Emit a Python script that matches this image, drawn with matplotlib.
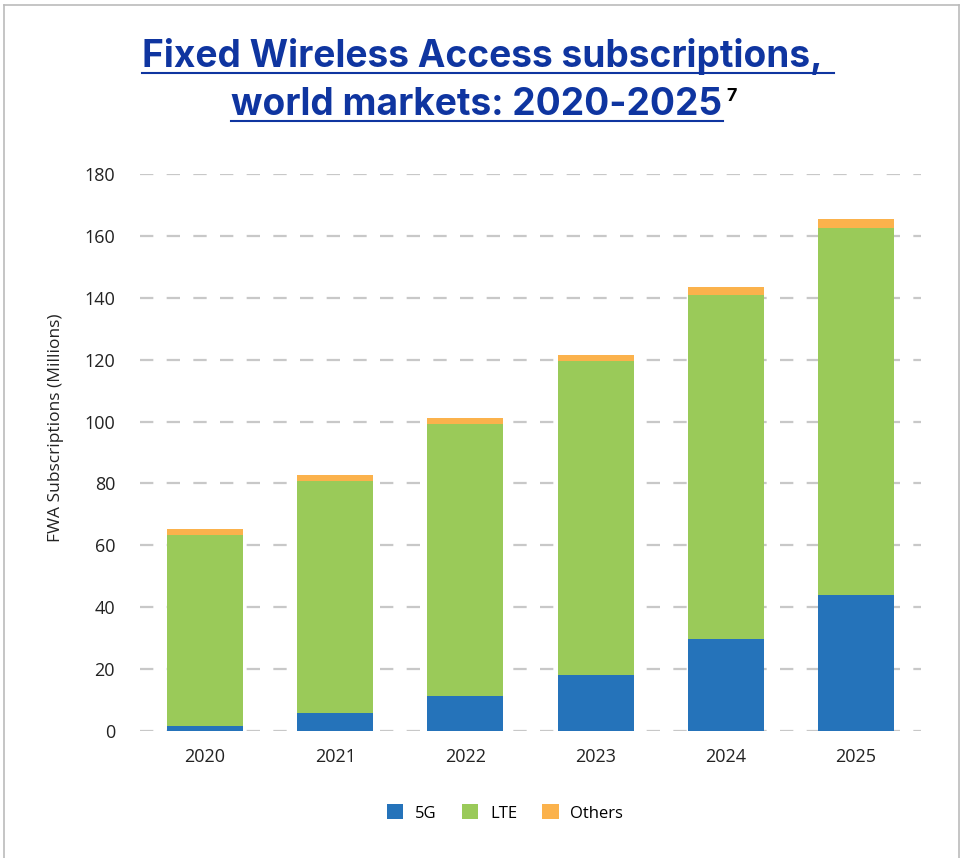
# fwa_subscriptions.py
# stacked bars of FWA subscriptions by technology

import matplotlib
matplotlib.use("Agg")
import matplotlib.pyplot as plt
import numpy as np
from matplotlib.lines import Line2D

years = ["2020", "2021", "2022", "2023", "2024", "2025"]
sub_5g = [1.5, 5.7, 11.2, 18.2, 29.6, 43.9]
sub_lte = [61.8, 75.2, 87.9, 101.5, 111.2, 118.8]
sub_other = [2.0, 1.9, 1.9, 1.9, 2.7, 2.6]
series = ["5G", "LTE", "Others"]
colors = ["#2573BA", "#9ACA59", "#FBB24C"]

plt.rcParams["font.family"] = ["Open Sans", "DejaVu Sans"]

W, H = 963, 858
fig = plt.figure(figsize=(W / 100, H / 100), dpi=100)
ax = fig.add_axes([140 / W, 1 - 731 / H, (921 - 140) / W, (731 - 174) / H])

x = np.arange(len(years))
bottom = np.zeros(len(years))
for name, vals, c in zip(series, [sub_5g, sub_lte, sub_other], colors):
    ax.bar(x, vals, 0.585, bottom=bottom, color=c, label=name, zorder=2)
    bottom += np.array(vals)

ax.set_xlim(-0.5, len(years) - 0.5)
ax.set_ylim(0, 180)
ax.set_yticks(range(0, 181, 20))
ax.set_xticks(x, years)
ax.grid(axis="y", color="#C8C8C8", linestyle=(0, (6, 6)), linewidth=1.6, zorder=0)
for s in ax.spines.values():
    s.set_visible(False)
ax.tick_params(length=0, labelsize=13, colors="#222222", pad=18)
ax.tick_params(axis="x", pad=12)
ax.set_ylabel("FWA Subscriptions (Millions)", fontsize=12.5, color="#222222")
ax.yaxis.set_label_coords(-0.097, 0.544)

ax.legend(loc="center", bbox_to_anchor=(505 / W, 1 - 813 / H), bbox_transform=fig.transFigure,
          ncol=3, frameon=False, fontsize=12, handlelength=1.0, handleheight=1.0,
          columnspacing=1.5, handletextpad=0.7)

# light frame (no bottom edge)
frame = dict(color="#BBBBBB", linewidth=1.2, transform=fig.transFigure)
fig.add_artist(Line2D([4 / W, 959 / W], [1 - 5 / H, 1 - 5 / H], **frame))
fig.add_artist(Line2D([4 / W, 4 / W], [0, 1 - 5 / H], **frame))
fig.add_artist(Line2D([959 / W, 959 / W], [0, 1 - 5 / H], **frame))

# title with underline
blue = "#0F35A0"
tfont = ["Inter", "DejaVu Sans"]
t1 = fig.text(482 / W, 1 - 67 / H, "Fixed Wireless Access subscriptions,", ha="center",
              va="baseline", fontsize=26.7, fontweight="bold", color=blue, family=tfont)
t2 = fig.text(477 / W, 1 - 115 / H, "world markets: 2020-2025", ha="center",
              va="baseline", fontsize=26.7, fontweight="bold", color=blue, family=tfont)
fig.canvas.draw()
r = fig.canvas.get_renderer()
for t, uy in [(t1, 73), (t2, 121)]:
    bb = t.get_window_extent(r)
    x1 = bb.x1 + (12 if t is t1 else 0)
    fig.add_artist(Line2D([bb.x0 / W, x1 / W], [1 - uy / H, 1 - uy / H], color=blue,
                          linewidth=1.5, transform=fig.transFigure))
    if t is t2:
        fig.text((bb.x1 + 4) / W, 1 - 101 / H, "7", fontsize=13, fontweight="bold",
                 color="black", va="baseline", family=tfont)

fig.savefig("out.png", dpi=100)
